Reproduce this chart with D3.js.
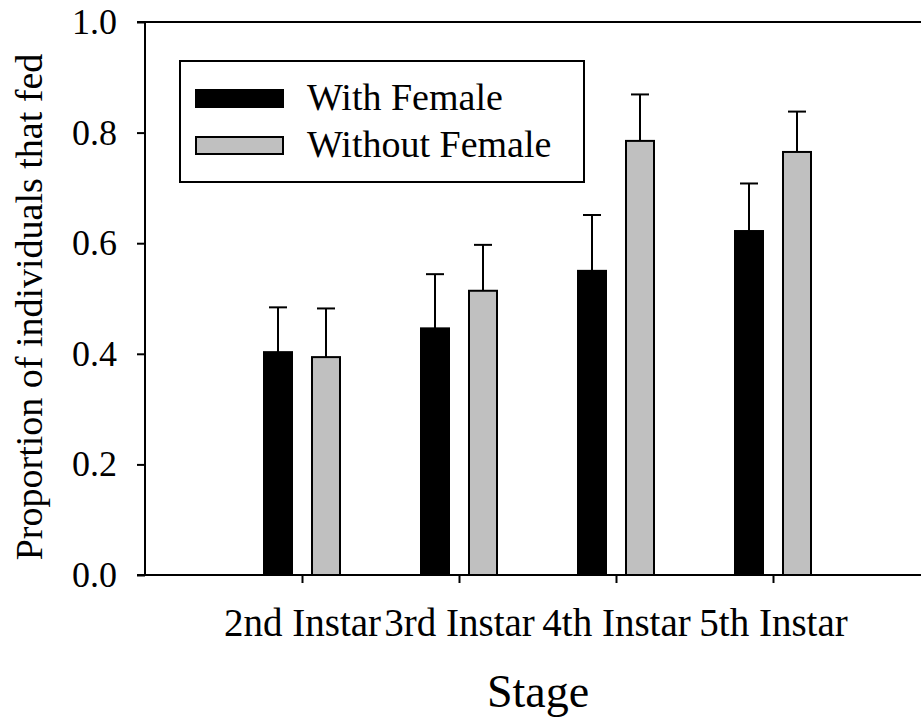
<!DOCTYPE html>
<html>
<head>
<meta charset="utf-8">
<script src="https://cdn.jsdelivr.net/npm/d3@7"></script>
<style>
  body { margin: 0; background: #fff; }
</style>
</head>
<body>
<svg width="921" height="721"></svg>
<script>
// ---- data ----
const stages = ["2nd Instar", "3rd Instar", "4th Instar", "5th Instar"];
const seriesNames = ["With Female", "Without Female"];
const withFemale = [0.403, 0.446, 0.550, 0.622];
const withFemaleErr = [0.081, 0.098, 0.101, 0.086];
const withoutFemale = [0.394, 0.514, 0.785, 0.765];
const withoutFemaleErr = [0.088, 0.083, 0.084, 0.073];
const yTicks = [0, 0.2, 0.4, 0.6, 0.8, 1.0];
const colors = ["#000000", "#c0c0c0"];

const FONT = "Liberation Serif";

const svg = d3.select("svg");

// scales
const x = d3.scalePoint().domain(stages).range([145, 930]).padding(1);
const x1 = d3.scaleBand().domain(seriesNames).range([-39, 39]).paddingInner(0.375);
const y = d3.scaleLinear().domain([0, 1]).range([575, 22]);

const rows = stages.map((s, i) => ({
  stage: s,
  vals: [
    { name: seriesNames[0], v: withFemale[i], e: withFemaleErr[i], c: colors[0] },
    { name: seriesNames[1], v: withoutFemale[i], e: withoutFemaleErr[i], c: colors[1] }
  ]
}));

// error bars first, bars on top
const groups = svg.selectAll(".grp")
  .data(rows)
  .enter().append("g")
  .attr("class", "grp")
  .attr("transform", d => "translate(" + x(d.stage) + ",0)");

const err = groups.selectAll(".err")
  .data(d => d.vals)
  .enter().append("g")
  .attr("class", "err");

err.append("line")
  .attr("x1", d => x1(d.name) + x1.bandwidth() / 2)
  .attr("x2", d => x1(d.name) + x1.bandwidth() / 2)
  .attr("y1", d => y(d.v))
  .attr("y2", d => y(d.v + d.e))
  .attr("stroke", "#000").attr("stroke-width", 2);

err.append("line")
  .attr("x1", d => x1(d.name) + x1.bandwidth() / 2 - 9)
  .attr("x2", d => x1(d.name) + x1.bandwidth() / 2 + 9)
  .attr("y1", d => y(d.v + d.e))
  .attr("y2", d => y(d.v + d.e))
  .attr("stroke", "#000").attr("stroke-width", 2);

groups.selectAll("rect")
  .data(d => d.vals)
  .enter().append("rect")
  .attr("x", d => x1(d.name) + 1)
  .attr("width", x1.bandwidth() - 2)
  .attr("y", d => y(d.v))
  .attr("height", d => y(0) - y(d.v))
  .attr("fill", d => d.c)
  .attr("stroke", "#000")
  .attr("stroke-width", 2);

// axes
const yAxis = svg.append("g")
  .attr("transform", "translate(145,0)")
  .call(d3.axisLeft(y).tickValues(yTicks).tickFormat(d3.format(".1f")).tickSize(8).tickPadding(20));
yAxis.attr("font-family", FONT).attr("font-size", 36);
yAxis.select(".domain").attr("stroke-width", 2).attr("d", "M0,22V575");
yAxis.selectAll(".tick line").attr("stroke-width", 2);

const xAxis = svg.append("g")
  .attr("transform", "translate(0,575)")
  .call(d3.axisBottom(x).tickSize(8));
xAxis.attr("font-family", FONT).attr("font-size", 39);
xAxis.select(".domain").attr("stroke-width", 2).attr("d", "M137,0H921");
xAxis.selectAll(".tick line").attr("stroke-width", 2);
xAxis.selectAll("text")
  .attr("dy", null)
  .attr("y", 61);

// top frame line
svg.append("line")
  .attr("x1", 137).attr("x2", 921)
  .attr("y1", 22).attr("y2", 22)
  .attr("stroke", "#000").attr("stroke-width", 2);

// axis titles
svg.append("text")
  .attr("x", 538).attr("y", 707)
  .attr("text-anchor", "middle")
  .attr("font-family", FONT)
  .attr("font-size", 46)
  .text("Stage");

svg.append("text")
  .attr("transform", "translate(42,307) rotate(-90)")
  .attr("text-anchor", "middle")
  .attr("font-family", FONT)
  .attr("font-size", 38)
  .text("Proportion of individuals that fed");

// legend
const legend = svg.append("g");
legend.append("rect")
  .attr("x", 180).attr("y", 61)
  .attr("width", 404).attr("height", 121)
  .attr("fill", "#fff").attr("stroke", "#000").attr("stroke-width", 2);

const li = legend.selectAll(".legend")
  .data(seriesNames)
  .enter().append("g")
  .attr("class", "legend")
  .attr("transform", (d, i) => "translate(0," + (47 * i) + ")");

li.append("rect")
  .attr("x", 196).attr("y", 90)
  .attr("width", 87).attr("height", 17)
  .attr("fill", (d, i) => colors[i])
  .attr("stroke", "#000").attr("stroke-width", 2);

li.append("text")
  .attr("x", 307).attr("y", 110)
  .attr("font-family", FONT)
  .attr("font-size", 38)
  .text(d => d);
</script>
</body>
</html>
